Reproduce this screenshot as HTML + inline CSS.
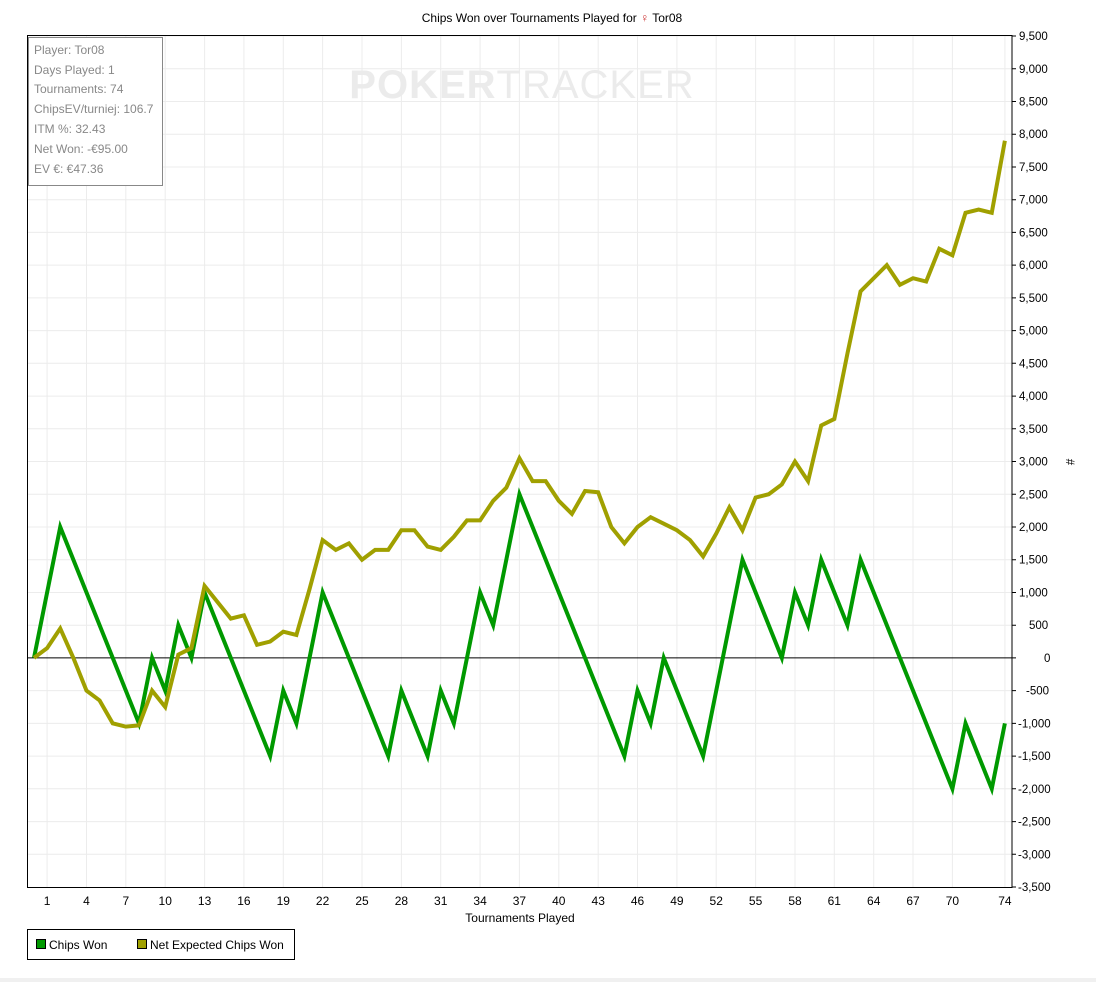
<!DOCTYPE html>
<html><head><meta charset="utf-8"><style>
body{margin:0;background:#fff;width:1096px;height:982px;overflow:hidden;font-family:"Liberation Sans",sans-serif}
svg{display:block}
</style></head><body>
<svg width="1096" height="982" xmlns="http://www.w3.org/2000/svg" font-family="Liberation Sans, sans-serif">
<rect width="1096" height="982" fill="#fff"/>
<rect x="0" y="978" width="1096" height="4" fill="#f0f0f0"/>
<text x="552" y="22" font-size="12" text-anchor="middle" fill="#000">Chips Won over Tournaments Played for <tspan fill="#c33">&#x2640;</tspan> Tor08</text>
<g stroke="#ececec" stroke-width="1">
<path d="M27 36H1012M27 68.8H1012M27 101.5H1012M27 134.2H1012M27 167H1012M27 199.7H1012M27 232.4H1012M27 265.1H1012M27 297.9H1012M27 330.6H1012M27 363.3H1012M27 396.1H1012M27 428.8H1012M27 461.5H1012M27 494.3H1012M27 527H1012M27 559.7H1012M27 592.5H1012M27 625.2H1012M27 690.6H1012M27 723.4H1012M27 756.1H1012M27 788.8H1012M27 821.6H1012M27 854.3H1012"/>
<path d="M47.1 35V887M86.5 35V887M125.8 35V887M165.2 35V887M204.6 35V887M243.9 35V887M283.3 35V887M322.6 35V887M362 35V887M401.4 35V887M440.7 35V887M480.1 35V887M519.4 35V887M558.8 35V887M598.2 35V887M637.5 35V887M676.9 35V887M716.2 35V887M755.6 35V887M795 35V887M834.3 35V887M873.7 35V887M913 35V887M952.4 35V887M1004.9 35V887"/>
</g>
<text x="522" y="98" font-size="40" font-weight="bold" fill="#ebebeb" text-anchor="middle" letter-spacing="1">POKER<tspan font-weight="normal">TRACKER</tspan></text>
<rect x="27.5" y="35.5" width="984.5" height="852" fill="none" stroke="#000"/>
<line x1="27" y1="657.9" x2="1012" y2="657.9" stroke="#000"/>
<g transform="translate(34,657.9) scale(13.12,-0.06546)" fill="none" stroke-linejoin="miter">
<polyline vector-effect="non-scaling-stroke" stroke="#009900" stroke-width="4" points="0,0 2,2000 8,-1000 9,0 10,-500 11,500 12,0 13,1000 18,-1500 19,-500 20,-1000 22,1000 27,-1500 28,-500 30,-1500 31,-500 32,-1000 34,1000 35,500 37,2500 45,-1500 46,-500 47,-1000 48,0 51,-1500 54,1500 57,0 58,1000 59,500 60,1500 62,500 63,1500 70,-2000 71,-1000 73,-2000 74,-1000"/>
<polyline vector-effect="non-scaling-stroke" stroke="#a0a000" stroke-width="4" points="0,0 1,150 2,450 3,0 4,-500 5,-650 6,-1000 7,-1050 8,-1030 9,-500 10,-750 11,50 12,150 13,1100 14,850 15,600 16,650 17,200 18,250 19,400 20,350 21,1050 22,1800 23,1650 24,1750 25,1500 26,1650 27,1650 28,1950 29,1950 30,1700 31,1650 32,1850 33,2100 34,2100 35,2400 36,2600 37,3050 38,2700 39,2700 40,2400 41,2200 42,2550 43,2530 44,2000 45,1750 46,2000 47,2150 48,2050 49,1950 50,1800 51,1550 52,1900 53,2300 54,1950 55,2450 56,2500 57,2650 58,3000 59,2700 60,3550 61,3650 62,4650 63,5600 64,5800 65,6000 66,5700 67,5800 68,5750 69,6250 70,6150 71,6800 72,6850 73,6800 74,7900"/>
</g>
<rect x="28.5" y="37.5" width="134" height="148" fill="#fff" stroke="#888"/>
<g font-size="12" fill="#888">
<text x="34" y="54">Player: Tor08</text>
<text x="34" y="74">Days Played: 1</text>
<text x="34" y="93">Tournaments: 74</text>
<text x="34" y="113">ChipsEV/turniej: 106.7</text>
<text x="34" y="133">ITM %: 32.43</text>
<text x="34" y="153">Net Won: -€95.00</text>
<text x="34" y="173">EV €: €47.36</text>
</g>
<g stroke="#000"><path d="M1012 36h4M1012 68.8h4M1012 101.5h4M1012 134.2h4M1012 167h4M1012 199.7h4M1012 232.4h4M1012 265.1h4M1012 297.9h4M1012 330.6h4M1012 363.3h4M1012 396.1h4M1012 428.8h4M1012 461.5h4M1012 494.3h4M1012 527h4M1012 559.7h4M1012 592.5h4M1012 625.2h4M1012 657.9h4M1012 690.6h4M1012 723.4h4M1012 756.1h4M1012 788.8h4M1012 821.6h4M1012 854.3h4M1012 887h4"/></g>
<g font-size="11.5" fill="#000">
<text x="1019" y="40">9,500</text><text x="1019" y="72.8">9,000</text><text x="1019" y="105.5">8,500</text><text x="1019" y="138.2">8,000</text><text x="1019" y="171">7,500</text><text x="1019" y="203.7">7,000</text><text x="1019" y="236.4">6,500</text><text x="1019" y="269.1">6,000</text><text x="1019" y="301.9">5,500</text><text x="1019" y="334.6">5,000</text><text x="1019" y="367.3">4,500</text><text x="1019" y="400.1">4,000</text><text x="1019" y="432.8">3,500</text><text x="1019" y="465.5">3,000</text><text x="1019" y="498.3">2,500</text><text x="1019" y="531">2,000</text><text x="1019" y="563.7">1,500</text><text x="1019" y="596.5">1,000</text><text x="1029" y="629.2">500</text><text x="1044" y="661.9">0</text><text x="1026" y="694.6">-500</text><text x="1018" y="727.4">-1,000</text><text x="1018" y="760.1">-1,500</text><text x="1018" y="792.8">-2,000</text><text x="1018" y="825.6">-2,500</text><text x="1018" y="858.3">-3,000</text><text x="1018" y="891">-3,500</text>
<text x="1066" y="462" transform="rotate(90 1066 462)" text-anchor="middle">#</text>
</g>
<g font-size="12" fill="#000" text-anchor="middle">
<text x="47.1" y="905">1</text><text x="86.5" y="905">4</text><text x="125.8" y="905">7</text><text x="165.2" y="905">10</text><text x="204.6" y="905">13</text><text x="243.9" y="905">16</text><text x="283.3" y="905">19</text><text x="322.6" y="905">22</text><text x="362" y="905">25</text><text x="401.4" y="905">28</text><text x="440.7" y="905">31</text><text x="480.1" y="905">34</text><text x="519.4" y="905">37</text><text x="558.8" y="905">40</text><text x="598.2" y="905">43</text><text x="637.5" y="905">46</text><text x="676.9" y="905">49</text><text x="716.2" y="905">52</text><text x="755.6" y="905">55</text><text x="795" y="905">58</text><text x="834.3" y="905">61</text><text x="873.7" y="905">64</text><text x="913" y="905">67</text><text x="952.4" y="905">70</text><text x="1004.9" y="905">74</text>
<text x="520" y="922">Tournaments Played</text>
</g>
<rect x="27.5" y="929.5" width="267" height="30" fill="#fff" stroke="#000"/>
<rect x="36.5" y="939.5" width="9" height="9" fill="#009900" stroke="#000"/>
<text x="49" y="949" font-size="12">Chips Won</text>
<rect x="137.5" y="939.5" width="9" height="9" fill="#a0a000" stroke="#000"/>
<text x="150" y="949" font-size="12">Net Expected Chips Won</text>
</svg>
</body></html>
